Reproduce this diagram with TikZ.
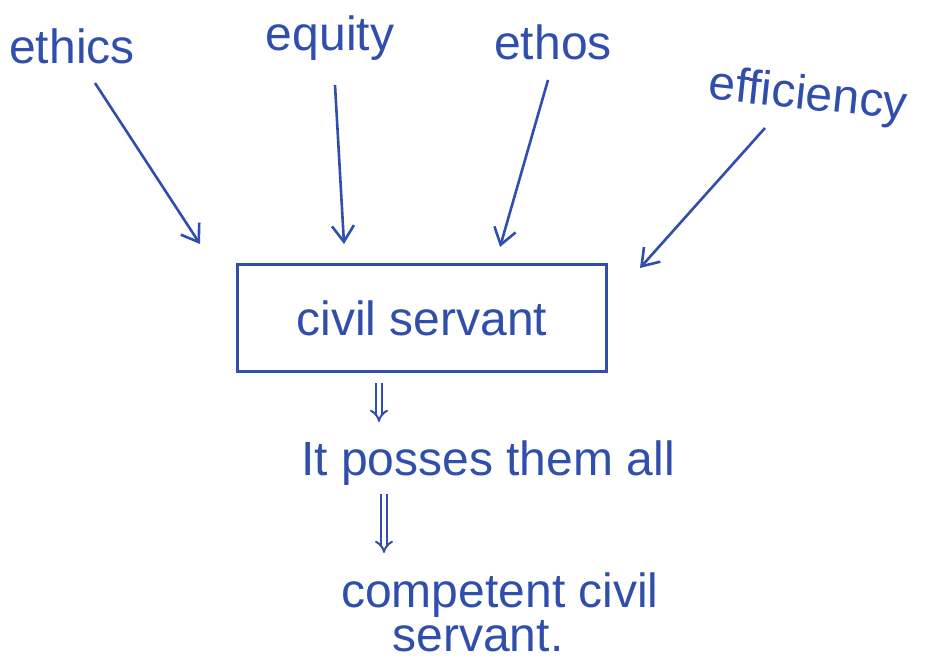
\documentclass[tikz,border=0pt]{standalone}
\usepackage{fontspec}
\setmainfont{Liberation Sans}
\usetikzlibrary{arrows.meta}
\definecolor{ink}{RGB}{48,78,172}
\tikzset{
  hand/.style={text=ink, font=\fontsize{48}{54}\selectfont, inner sep=0pt},
  arr/.style={draw=ink, line width=2.6pt, -{Straight Barb[length=16pt,width=22pt]}},
  dbl/.style={draw=ink, line width=2pt, double, double distance=4pt, -{Implies[length=10pt]}},
  boxst/.style={draw=ink, line width=2.6pt, minimum width=369pt, minimum height=107pt, inner sep=0pt, text=ink, font=\fontsize{48}{54}\selectfont}
}
\begin{document}
\begin{tikzpicture}[x=1pt,y=-1pt]
\useasboundingbox (0,0) rectangle (928,660);
\node[hand] (ethics) at (72,46) {ethics};
\node[hand] (equity) at (330,38) {equity};
\node[hand] (ethos) at (553,42) {ethos};
\node[hand, rotate=-6] (eff) at (808,97) {ef{}ficiency};
\node[boxst] (box) at (422,318) {civil servant};
\node[hand] (posses) at (488,463) {It posses them all};
\node[hand] (comp) at (500,595) {competent civil};
\node[hand] (serv) at (478,636) {servant.};
\coordinate (s1) at (95,83);   \coordinate (t1) at (200,244);
\coordinate (s2) at (335,85);  \coordinate (t2) at (344,244);
\coordinate (s3) at (548,80);  \coordinate (t3) at (500,247);
\coordinate (s4) at (765,128); \coordinate (t4) at (640,268);
\draw[arr] (s1) -- (t1);
\draw[arr] (s2) -- (t2);
\draw[arr] (s3) -- (t3);
\draw[arr] (s4) -- (t4);
\draw[dbl] (box.south -| 379,0) ++(0,10) -- (379,422);
\draw[dbl] (posses.south -| 384,0) ++(0,8) -- (384,553);
\end{tikzpicture}
\end{document}
